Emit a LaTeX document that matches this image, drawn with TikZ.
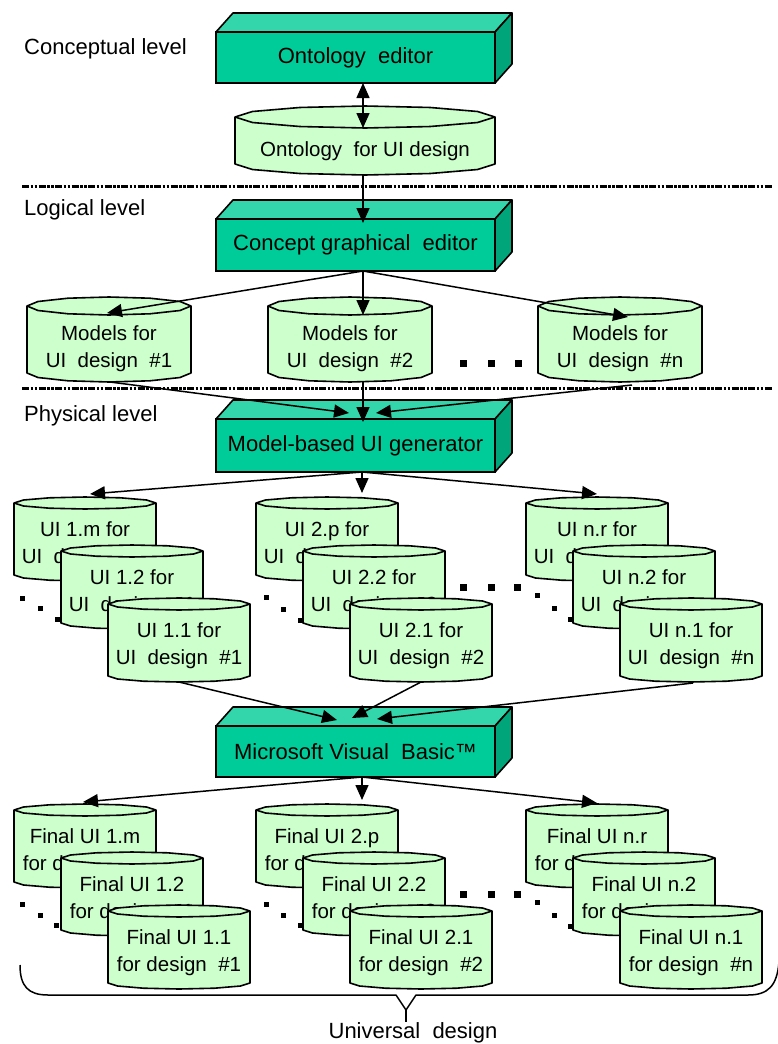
\documentclass[tikz,border=0pt]{standalone}
\usepackage{fontspec}
\setmainfont{Liberation Sans}
\usetikzlibrary{arrows.meta,calc}
\definecolor{frontc}{RGB}{0,204,153}
\definecolor{topc}{RGB}{51,214,170}
\definecolor{sidec}{RGB}{0,166,122}
\definecolor{cylc}{RGB}{204,255,204}
\tikzset{
 boxfront/.style={draw, fill=frontc, line width=1.6pt, inner sep=0pt, outer sep=0pt, font=\fontsize{22}{26}\selectfont},
 boxtop/.style={draw, fill=topc, line width=1.6pt, line join=round},
 boxside/.style={draw, fill=sidec, line width=1.6pt, line join=round},
 cylbody/.style={draw, fill=cylc, line width=1.6pt, line join=round},
 cylline/.style={draw, line width=1.6pt, line join=round},
 cyltext/.style={align=center, inner sep=0pt, font=\fontsize{20.5}{27}\selectfont},
 lvl/.style={anchor=west, inner sep=0pt, font=\fontsize{22}{26}\selectfont},
 conn/.style={line width=1.5pt, -{Triangle[length=15pt,width=13pt]}},
 dconn/.style={line width=1.5pt, {Triangle[length=15pt,width=13pt]}-{Triangle[length=15pt,width=13pt]}},
 sepline/.style={line width=3pt, dash pattern=on 7pt off 1.5pt on 2.5pt off 1.5pt on 2.5pt off 1.5pt},
 bracepath/.style={line width=1.5pt, line join=round},
}
\newcommand{\boxthree}[6]{%
 \node[boxfront, minimum width={#4-#2}, minimum height={#5-#3}] (#1) at ({(#2+#4)/2},{(#3+#5)/2}) {#6};
 \filldraw[boxtop] (#1.north west) -- ++(17,-19) -- ++({#4-#2},0) -- (#1.north east) -- cycle;
 \filldraw[boxside] (#1.north east) -- ++(17,-19) -- ++(0,{#5-#3}) -- (#1.south east) -- cycle;
}
\newcommand{\drawcyl}[7]{%
 \pgfmathsetmacro{\cylcx}{#2+#4/2}%
 \pgfmathsetmacro{\cylrx}{#4/2}%
 \pgfmathsetmacro{\cylty}{#3+#6}%
 \pgfmathsetmacro{\cylby}{#3+#5-#6}%
 \filldraw[cylbody] plot[domain=180:0,samples=7] ({\cylcx+\cylrx*cos(\x)},{\cylty-#6*sin(\x)}) -- plot[domain=0:-180,samples=7] ({\cylcx+\cylrx*cos(\x)},{\cylby-#6*sin(\x)}) -- cycle;
 \draw[cylline] plot[domain=180:360,samples=7] ({\cylcx+\cylrx*cos(\x)},{\cylty-#6*sin(\x)});
 \node[cyltext] (#1) at (\cylcx,{#3+#6+#5/2}) {#7};
 \coordinate (#1-t) at (\cylcx,{#3+2*#6});
 \coordinate (#1-b) at (\cylcx,{#3+#5});
}
\newcommand{\sqdot}[3]{\fill ({#1-#3/2},{#2-#3/2}) rectangle ++(#3,#3);}
\begin{document}
\begin{tikzpicture}[x=1pt,y=-1pt]
\useasboundingbox (0,0) rectangle (777,1044);
\fill[white] (0,0) rectangle (777,1044);

% level labels and separators
\node[lvl] (lc) at (24,49) {Conceptual level};
\node[lvl] (ll) at (24,210) {Logical level};
\node[lvl] (lp) at (24,416) {Physical level};
\draw[sepline] (22,186) -- (772,186);
\draw[sepline] (22,388) -- (772,388);

% boxes
\boxthree{ed1}{216}{32}{495}{83}{Ontology\ \ editor}
\boxthree{ed2}{216}{219}{495}{271}{Concept graphical\ \ editor}
\boxthree{gen}{216}{419}{495}{472}{Model-based UI generator}
\boxthree{vb}{216}{726}{495}{777}{Microsoft Visual\ \ Basic™}

% ontology
\drawcyl{ont}{235}{106}{260}{69}{11}{Ontology\ \ for UI design}

% models row
\sqdot{463}{363}{7}\sqdot{491}{363}{7}\sqdot{518}{363}{7}
\drawcyl{m1}{27}{297}{164}{85}{9}{Models for\\UI\ \ design\ \ \#1}
\drawcyl{m2}{268}{297}{164}{85}{9}{Models for\\UI\ \ design\ \ \#2}
\drawcyl{mn}{538}{297}{164}{85}{9}{Models for\\UI\ \ design\ \ \#n}

% UI row dots
\sqdot{22}{598}{5}\sqdot{40}{608}{5}\sqdot{57}{619}{5}
\sqdot{266}{597}{5}\sqdot{283}{609}{5}\sqdot{300}{620}{5}
\sqdot{463}{587}{7}\sqdot{491}{587}{7}\sqdot{517}{587}{7}
\sqdot{537}{595}{5}\sqdot{554}{608}{5}\sqdot{570}{619}{5}
% UI row
\drawcyl{u1m}{14}{497}{142}{84}{6}{UI 1.m for\\UI\ \ design\ \ \#1}
\drawcyl{u12}{61}{545}{142}{84}{6}{UI 1.2 for\\UI\ \ design\ \ \#1}
\drawcyl{u11}{108}{598}{142}{84}{6}{UI 1.1 for\\UI\ \ design\ \ \#1}
\drawcyl{u2p}{256}{497}{142}{84}{6}{UI 2.p for\\UI\ \ design\ \ \#2}
\drawcyl{u22}{303}{545}{142}{84}{6}{UI 2.2 for\\UI\ \ design\ \ \#2}
\drawcyl{u21}{350}{598}{142}{84}{6}{UI 2.1 for\\UI\ \ design\ \ \#2}
\drawcyl{unr}{526}{497}{142}{84}{6}{UI n.r for\\UI\ \ design\ \ \#n}
\drawcyl{un2}{573}{545}{142}{84}{6}{UI n.2 for\\UI\ \ design\ \ \#n}
\drawcyl{un1}{620}{598}{142}{84}{6}{UI n.1 for\\UI\ \ design\ \ \#n}

% final row dots
\sqdot{22}{904}{5}\sqdot{40}{915}{5}\sqdot{56}{925}{5}
\sqdot{266}{904}{5}\sqdot{283}{915}{5}\sqdot{300}{925}{5}
\sqdot{463}{894}{7}\sqdot{491}{894}{7}\sqdot{517}{894}{7}
\sqdot{537}{902}{5}\sqdot{554}{915}{5}\sqdot{570}{926}{5}
% final row
\drawcyl{f1m}{14}{804}{142}{84}{6}{Final UI 1.m\\for design\ \ \#1}
\drawcyl{f12}{61}{852}{142}{84}{6}{Final UI 1.2\\for design\ \ \#1}
\drawcyl{f11}{108}{905}{142}{84}{6}{Final UI 1.1\\for design\ \ \#1}
\drawcyl{f2p}{256}{804}{142}{84}{6}{Final UI 2.p\\for design\ \ \#2}
\drawcyl{f22}{303}{852}{142}{84}{6}{Final UI 2.2\\for design\ \ \#2}
\drawcyl{f21}{350}{905}{142}{84}{6}{Final UI 2.1\\for design\ \ \#2}
\drawcyl{fnr}{526}{804}{142}{84}{6}{Final UI n.r\\for design\ \ \#n}
\drawcyl{fn2}{573}{852}{142}{84}{6}{Final UI n.2\\for design\ \ \#n}
\drawcyl{fn1}{620}{905}{142}{84}{6}{Final UI n.1\\for design\ \ \#n}

% connector points
\coordinate (ed1o) at (363,83);
\coordinate (ontin) at (363,128);
\coordinate (ontout) at (363,175);
\coordinate (ed2in) at (363,223);
\coordinate (hub2) at (363,271);
\coordinate (m1in) at (107,313);
\coordinate (m2in) at (363,315);
\coordinate (mnin) at (628,317);
\coordinate (m1out) at (110,382);
\coordinate (m2out) at (363,382);
\coordinate (mnout) at (632,385);
\coordinate (genL) at (349,413);
\coordinate (genM) at (363,422);
\coordinate (genR) at (376,413);
\coordinate (hub3) at (362,472);
\coordinate (u1in) at (90,494);
\coordinate (u2in) at (362,493);
\coordinate (unin) at (597,494);
\coordinate (u1out) at (179,682);
\coordinate (u2out) at (421,682);
\coordinate (unout) at (693,683);
\coordinate (vbL) at (337,720);
\coordinate (vbM) at (352,718);
\coordinate (vbR) at (377,719);
\coordinate (hub4) at (362,777);
\coordinate (f1in) at (83,802);
\coordinate (f2in) at (362,800);
\coordinate (fnin) at (597,803);

\draw[dconn] (ed1o) -- (ontin);
\draw[conn] (ontout) -- (ed2in);
\draw[conn] (hub2) -- (m1in);
\draw[conn] (hub2) -- (m2in);
\draw[conn] (hub2) -- (mnin);
\draw[conn] (m1out) -- (genL);
\draw[conn] (m2out) -- (genM);
\draw[conn] (mnout) -- (genR);
\draw[conn] (hub3) -- (u1in);
\draw[conn] (hub3) -- (u2in);
\draw[conn] (hub3) -- (unin);
\draw[conn] (u1out) -- (vbL);
\draw[conn] (u2out) -- (vbM);
\draw[conn] (unout) -- (vbR);
\draw[conn] (hub4) -- (f1in);
\draw[conn] (hub4) -- (f2in);
\draw[conn] (hub4) -- (fnin);

% brace
\coordinate (brL) at (20,965);
\coordinate (brTip) at (406,1010);
\coordinate (brR) at (779,962);
\draw[bracepath] (brL) .. controls (20,986) and (28,995) .. (48,995) -- (396,995) -- (brTip) -- (416,995) -- (748,995) .. controls (768,995) and (777,986) .. (brR);
\draw[bracepath] (brTip) -- (406,1022);
\node[lvl, anchor=center] (ud) at (413,1033) {Universal\ \ design};
\end{tikzpicture}
\end{document}
